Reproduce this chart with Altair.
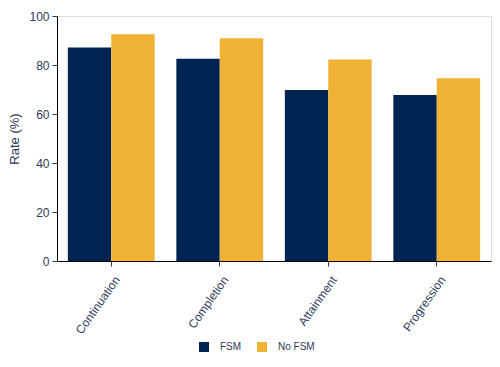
import altair as alt
import pandas as pd

measures = ["Continuation", "Completion", "Attainment", "Progression"]
fsm = [87.1, 82.6, 69.8, 67.8]
no_fsm = [92.6, 90.9, 82.2, 74.6]
groups = ["FSM", "No FSM"]
colors = ["#002452", "#EFB234"]

rows = []
for i, m in enumerate(measures):
    rows.append({"Measure": m, "Group": "FSM", "Rate": fsm[i]})
    rows.append({"Measure": m, "Group": "No FSM", "Rate": no_fsm[i]})
df = pd.DataFrame(rows)

txt = "#2E3A59"

chart = alt.Chart(df).mark_bar().encode(
    x=alt.X("Measure:N", sort=measures,
            scale=alt.Scale(paddingInner=0.2, paddingOuter=0.1),
            axis=alt.Axis(title=None, labelAngle=-55, labelAlign="right", labelBaseline="middle",
                          labelFontSize=12, labelColor=txt, domainColor="#000000",
                          tickColor=txt, tickSize=5, labelPadding=11, labelOffset=6)),
    xOffset=alt.XOffset("Group:N", sort=groups),
    y=alt.Y("Rate:Q", scale=alt.Scale(domain=[0, 100]),
            axis=alt.Axis(title="Rate (%)", values=[0, 20, 40, 60, 80, 100], grid=False,
                          labelFontSize=12, labelColor=txt, titleColor=txt, titleFontSize=13,
                          titleFontWeight="normal", domainColor="#000000", tickColor=txt,
                          tickSize=5, labelPadding=3, titlePadding=7)),
    color=alt.Color("Group:N", sort=groups,
                    scale=alt.Scale(domain=groups, range=colors),
                    legend=alt.Legend(title=None, orient="none", direction="horizontal",
                                      legendX=142, legendY=326, symbolType="square",
                                      symbolSize=100, symbolStrokeWidth=0, labelFontSize=10,
                                      labelColor=txt, columnPadding=15, labelOffset=11)),
).properties(
    width=434, height=245,
    autosize=alt.AutoSizeParams(type="none"),
    padding={"left": 49, "top": 8, "right": 1, "bottom": 98},
).configure_view(stroke=None).configure(font="Liberation Sans")

chart.save("out.html", embed_options={"renderer": "svg", "actions": False})
